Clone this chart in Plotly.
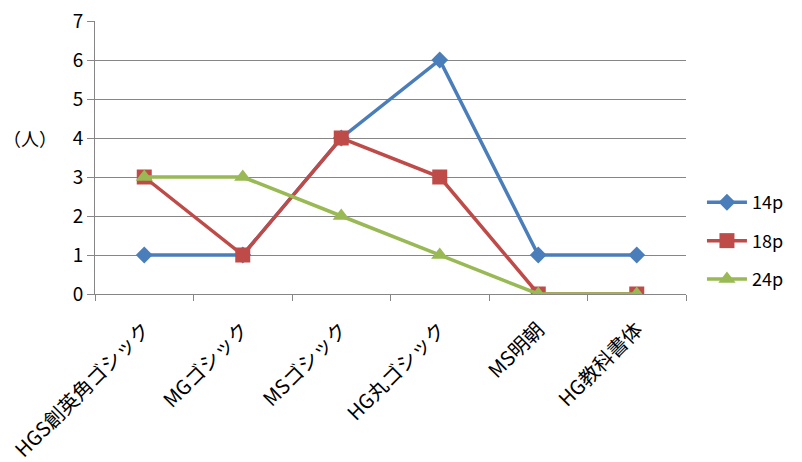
import plotly.graph_objects as go

categories = ["HGS創英角ゴシック", "MGゴシック", "MSゴシック", "HG丸ゴシック", "MS明朝", "HG教科書体"]
series_names = ["14p", "18p", "24p"]
values_14p = [1, 1, 4, 6, 1, 1]
values_18p = [3, 1, 4, 3, 0, 0]
values_24p = [3, 3, 2, 1, 0, 0]
y_ticks = [0, 1, 2, 3, 4, 5, 6, 7]

colors = ["#4A7EBB", "#BE4B48", "#98B954"]
symbols = ["diamond", "square", "triangle-up"]
sizes = [13, 15, 15]

fig = go.Figure()
for name, vals, c, s, sz in zip(series_names, [values_14p, values_18p, values_24p], colors, symbols, sizes):
    fig.add_trace(go.Scatter(
        x=categories, y=vals, name=name, mode="lines+markers", legendgroup=name,
        line=dict(color=c, width=3.5),
        marker=dict(symbol=s, size=sz, color=c, line=dict(width=0)),
    ))

font_family = "Noto Sans CJK JP, Noto Sans, sans-serif"
fig.update_layout(
    width=802, height=462,
    margin=dict(l=95, r=116, t=21, b=168),
    paper_bgcolor="white", plot_bgcolor="white",
    font=dict(family=font_family, color="#000000", size=16),
    showlegend=True,
    legend=dict(x=1.027, y=0.194, xanchor="left", yanchor="middle",
                font=dict(size=18), itemwidth=40, traceorder="grouped", tracegroupgap=12,
                bgcolor="rgba(0,0,0,0)"),
    xaxis=dict(
        type="category", tickangle=-45, tickfont=dict(size=20), automargin=False,
        showgrid=False, showline=True, linecolor="#868686", linewidth=1,
        ticks="outside", tickson="boundaries", ticklen=6, tickcolor="#868686",
        ticklabelstandoff=15,
        range=[-0.5, 5.5],
    ),
    yaxis=dict(
        range=[0, 7], tickvals=y_ticks, tickfont=dict(size=19), automargin=False,
        showgrid=True, gridcolor="#868686", gridwidth=1,
        showline=True, linecolor="#868686", linewidth=1,
        ticks="outside", ticklen=7, tickcolor="#868686", zeroline=False,
    ),
    annotations=[dict(text="（人）", x=0, xref="paper", xanchor="right", xshift=-36,
                      y=4, yref="y", yanchor="middle", showarrow=False,
                      font=dict(size=18, family=font_family))],
)

fig.write_html("out.html")
